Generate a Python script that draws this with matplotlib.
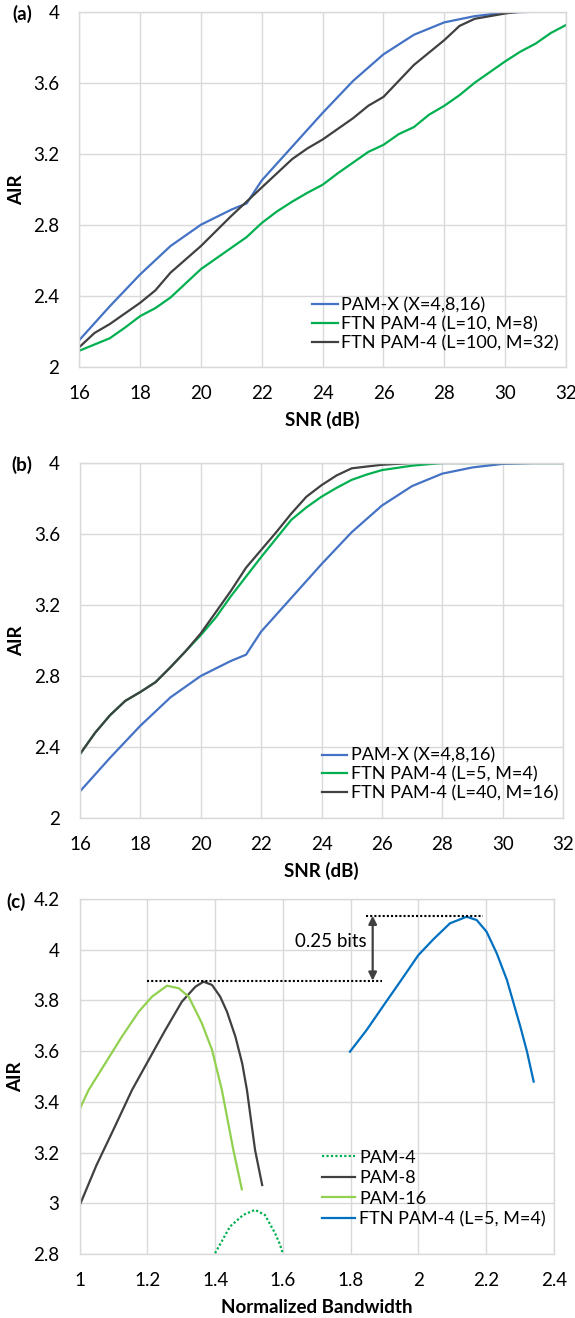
import matplotlib
matplotlib.use("Agg")
import matplotlib.pyplot as plt
from matplotlib.ticker import FuncFormatter

plt.rcParams['font.family'] = ['Lato', 'DejaVu Sans']

# ---------------- data ----------------
# Panel (a)
snr_pamx = [16, 17, 18, 19, 20, 21, 21.5, 22, 23, 24, 25, 26, 27, 28, 29, 30, 31, 32]
air_pamx = [2.15, 2.34, 2.52, 2.68, 2.80, 2.885, 2.92, 3.05, 3.24, 3.43, 3.61, 3.76, 3.87, 3.94, 3.975, 3.995, 4.0, 4.0]

snr_a_l100 = [16, 16.5, 17, 18, 18.5, 19, 20, 21, 21.5, 22, 23, 23.5, 24, 25, 25.5, 26, 27, 28, 28.5, 29, 30, 30.5, 32]
air_a_l100 = [2.11, 2.19, 2.24, 2.36, 2.43, 2.53, 2.68, 2.85, 2.93, 3.01, 3.17, 3.23, 3.28, 3.40, 3.47, 3.52, 3.70, 3.84, 3.92, 3.96, 3.99, 4.0, 4.0]

snr_a_l10 = [16, 17, 17.5, 18, 18.5, 19, 19.5, 20, 20.5, 21, 21.5, 22, 22.5, 23, 23.5, 24, 24.5, 25,
             25.5, 26, 26.5, 27, 27.5, 28, 28.5, 29, 29.5, 30, 30.5, 31, 31.5, 32]
air_a_l10 = [2.09, 2.16, 2.22, 2.285, 2.33, 2.39, 2.47, 2.55, 2.61, 2.67, 2.73, 2.81, 2.875, 2.93, 2.98, 3.025, 3.09, 3.15,
             3.21, 3.25, 3.31, 3.35, 3.42, 3.47, 3.53, 3.60, 3.66, 3.72, 3.775, 3.82, 3.88, 3.925]

# Panel (b)
snr_b = [16, 16.5, 17, 17.5, 18, 18.5, 19, 19.5, 20, 20.5, 21, 21.5, 22, 22.5, 23, 23.5, 24, 24.5, 25, 25.5, 26, 27, 28, 32]
air_b_l5 = [2.36, 2.48, 2.58, 2.66, 2.71, 2.765, 2.85, 2.94, 3.03, 3.13, 3.25, 3.36, 3.47, 3.575, 3.68, 3.75, 3.81, 3.86,
            3.905, 3.935, 3.96, 3.985, 4.0, 4.0]
air_b_l40 = [2.36, 2.48, 2.58, 2.66, 2.71, 2.765, 2.85, 2.94, 3.04, 3.16, 3.28, 3.41, 3.51, 3.61, 3.715, 3.81, 3.875, 3.93,
             3.97, 3.98, 3.99, 4.0, 4.0, 4.0]

# Panel (c)
bw_pam16 = [1.0, 1.027, 1.076, 1.125, 1.175, 1.214, 1.258, 1.293, 1.322, 1.361, 1.391, 1.42, 1.454, 1.479]
air_pam16 = [3.37, 3.447, 3.552, 3.657, 3.756, 3.815, 3.858, 3.848, 3.815, 3.71, 3.605, 3.447, 3.21, 3.055]

bw_pam8 = [1.0, 1.05, 1.1, 1.155, 1.204, 1.253, 1.302, 1.342, 1.366, 1.391, 1.415, 1.435, 1.46, 1.48, 1.494, 1.518, 1.539]
air_pam8 = [2.99, 3.15, 3.29, 3.447, 3.565, 3.683, 3.795, 3.854, 3.874, 3.861, 3.815, 3.756, 3.657, 3.552, 3.447, 3.21, 3.072]

bw_pam4 = [1.4, 1.444, 1.483, 1.518, 1.547, 1.577, 1.592, 1.6]
air_pam4 = [2.803, 2.908, 2.954, 2.974, 2.954, 2.882, 2.836, 2.80]

bw_ftn = [1.798, 1.847, 1.896, 1.946, 2.0, 2.044, 2.093, 2.142, 2.172, 2.201, 2.231, 2.261, 2.3, 2.32, 2.34]
air_ftn = [3.598, 3.683, 3.778, 3.874, 3.979, 4.041, 4.104, 4.130, 4.117, 4.071, 3.986, 3.881, 3.70, 3.60, 3.48]

ref_low = 3.878
ref_high = 4.134
low_span = [1.2, 1.892]
high_span = [1.845, 2.19]
arrow_x = 1.865
gap_label = "0.25 bits"
gap_label_pos = (1.847, 4.032)

xticks_snr = [16, 18, 20, 22, 24, 26, 28, 30, 32]
yticks_snr = [2, 2.4, 2.8, 3.2, 3.6, 4]
xticks_bw = [1, 1.2, 1.4, 1.6, 1.8, 2, 2.2, 2.4]
yticks_bw = [2.8, 3, 3.2, 3.4, 3.6, 3.8, 4, 4.2]

# ---------------- style ----------------
C_BLUE = '#4472c4'
C_GREEN = '#00b050'
C_DARK = '#404040'
C_LGREEN = '#92d050'
C_FTN = '#0070c0'
GRID = '#d9d9d9'
LW = 1.6
FS = 13.5
LEG_FS = 13

W, H = 575, 1318
fig = plt.figure(figsize=(W / 100, H / 100), dpi=100)

fmt = FuncFormatter(lambda v, p: f"{v:g}")


def px_axes(left, right, top, bottom):
    return fig.add_axes([left / W, 1 - bottom / H, (right - left) / W, (bottom - top) / H])


def style(ax, xt, yt, xlab, ylab_x, xlab_y):
    ax.set_xticks(xt)
    ax.set_yticks(yt)
    ax.xaxis.set_major_formatter(fmt)
    ax.yaxis.set_major_formatter(fmt)
    ax.set_xlim(xt[0], xt[-1])
    ax.set_ylim(yt[0], yt[-1])
    ax.grid(True, color=GRID, lw=1.0)
    ax.set_axisbelow(True)
    for s in ax.spines.values():
        s.set_color(GRID)
        s.set_linewidth(1.0)
    ax.tick_params(length=0, labelsize=FS, colors='black')
    ax.tick_params(axis='y', pad=14.4)
    ax.tick_params(axis='x', pad=13)
    ax.set_xlabel(xlab, fontsize=FS, fontweight='bold')
    ax.set_ylabel('AIR', fontsize=FS, fontweight='bold')
    ax.yaxis.set_label_coords(ylab_x, 0.5)
    ax.xaxis.set_label_coords(0.5, xlab_y)


leg_kw = dict(loc='upper left', frameon=False, fontsize=LEG_FS, borderpad=0, borderaxespad=0)

# Panel (a)
axa = px_axes(79.3, 566, 11.7, 366.7)
axa.plot(snr_pamx, air_pamx, color=C_BLUE, lw=LW, label='PAM-X (X=4,8,16)')
axa.plot(snr_a_l10, air_a_l10, color=C_GREEN, lw=LW, label='FTN PAM-4 (L=10, M=8)')
axa.plot(snr_a_l100, air_a_l100, color=C_DARK, lw=LW, label='FTN PAM-4 (L=100, M=32)')
style(axa, xticks_snr, yticks_snr, 'SNR (dB)', -0.112, -0.125)
axa.legend(bbox_to_anchor=(0.478, 0.195), handlelength=1.44, handletextpad=0.17, labelspacing=0.15, **leg_kw)

# Panel (b)
axb = px_axes(80, 563, 463, 818)
axb.plot(snr_pamx, air_pamx, color=C_BLUE, lw=LW, label='PAM-X (X=4,8,16)')
axb.plot(snr_b, air_b_l5, color=C_GREEN, lw=LW, label='FTN PAM-4 (L=5, M=4)')
axb.plot(snr_b, air_b_l40, color=C_DARK, lw=LW, label='FTN PAM-4 (L=40, M=16)')
style(axb, xticks_snr, yticks_snr, 'SNR (dB)', -0.113, -0.125)
axb.legend(bbox_to_anchor=(0.501, 0.198), handlelength=1.38, handletextpad=0.2, labelspacing=0.15, **leg_kw)

# Panel (c)
axc = px_axes(79.5, 554, 899, 1254)
axc.plot(bw_pam4, air_pam4, color=C_GREEN, lw=LW, ls=(0, (1, 1)), label='PAM-4')
axc.plot(bw_pam8, air_pam8, color=C_DARK, lw=LW, label='PAM-8')
axc.plot(bw_pam16, air_pam16, color=C_LGREEN, lw=LW, label='PAM-16')
axc.plot(bw_ftn, air_ftn, color=C_FTN, lw=LW, label='FTN PAM-4 (L=5, M=4)')
axc.plot(low_span, [ref_low, ref_low], color='black', lw=1.5, ls=(0, (1, 1)))
axc.plot(high_span, [ref_high, ref_high], color='black', lw=1.5, ls=(0, (1, 1)))
axc.annotate('', xy=(arrow_x, ref_high), xytext=(arrow_x, ref_low),
             arrowprops=dict(arrowstyle='<|-|>', color=C_DARK, lw=1.6, mutation_scale=12,
                             shrinkA=0, shrinkB=0))
axc.text(gap_label_pos[0], gap_label_pos[1], gap_label, ha='right', va='center', fontsize=FS)
style(axc, xticks_bw, yticks_bw, 'Normalized Bandwidth', -0.117, -0.128)
axc.legend(bbox_to_anchor=(0.511, 0.294), handlelength=1.83, handletextpad=0.22, labelspacing=0.25, **leg_kw)

# Panel labels
fig.text(12.7 / W, 1 - 14 / H, '(a)', fontsize=FS, fontweight='bold', ha='left', va='center')
fig.text(11 / W, 1 - 465 / H, '(b)', fontsize=FS, fontweight='bold', ha='left', va='center')
fig.text(6.8 / W, 1 - 902 / H, '(c)', fontsize=FS, fontweight='bold', ha='left', va='center')

fig.savefig('out.png', dpi=100)
